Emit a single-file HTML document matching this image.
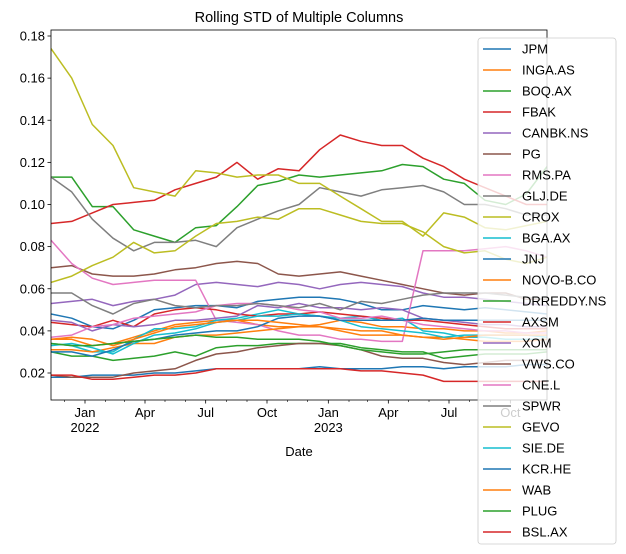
<!DOCTYPE html>
<html><head><meta charset="utf-8">
<style>
body{margin:0;background:#fff;}
svg{display:block;font-family:"Liberation Sans","DejaVu Sans",sans-serif;}
</style></head>
<body>
<svg id="chart" width="626" height="554" xmlns="http://www.w3.org/2000/svg"></svg>
<script>
const seriesNames=["JPM","INGA.AS","BOQ.AX","FBAK","CANBK.NS","PG","RMS.PA","GLJ.DE","CROX","BGA.AX","JNJ","NOVO-B.CO","DRREDDY.NS","AXSM","XOM","VWS.CO","CNE.L","SPWR","GEVO","SIE.DE","KCR.HE","WAB","PLUG","BSL.AX"];
const dayOffsets=[0,31,62,93,124,155,186,217,248,279,310,341,372,403,434,465,496,527,558,589,620,651,682,713,744];
const yTicks=[0.02,0.04,0.06,0.08,0.10,0.12,0.14,0.16,0.18];
const sJPM=[0.048,0.046,0.042,0.041,0.045,0.05,0.051,0.052,0.052,0.051,0.054,0.055,0.056,0.056,0.055,0.053,0.05,0.05,0.052,0.051,0.05,0.051,0.05,0.049,0.048];
const sINGA=[0.036,0.036,0.033,0.034,0.037,0.04,0.043,0.044,0.045,0.045,0.043,0.042,0.042,0.043,0.045,0.044,0.042,0.042,0.041,0.041,0.04,0.04,0.039,0.039,0.04];
const sBOQ=[0.113,0.113,0.099,0.099,0.088,0.085,0.082,0.089,0.090,0.099,0.109,0.111,0.114,0.113,0.114,0.115,0.116,0.119,0.118,0.112,0.11,0.102,0.1,0.105,0.118];
const sFBAK=[0.091,0.092,0.096,0.100,0.101,0.102,0.107,0.110,0.113,0.120,0.112,0.117,0.116,0.126,0.133,0.130,0.128,0.128,0.122,0.118,0.112,0.108,0.104,0.10,0.1];
const sCANBK=[0.053,0.054,0.055,0.052,0.054,0.055,0.057,0.062,0.063,0.062,0.061,0.063,0.062,0.060,0.062,0.063,0.062,0.061,0.058,0.056,0.056,0.055,0.054,0.053,0.052];
const sPG=[0.070,0.071,0.067,0.066,0.066,0.067,0.069,0.070,0.072,0.073,0.072,0.067,0.066,0.067,0.068,0.066,0.064,0.062,0.060,0.058,0.057,0.058,0.058,0.055,0.055];
const sRMS=[0.083,0.072,0.065,0.062,0.063,0.064,0.064,0.064,0.045,0.044,0.043,0.040,0.038,0.038,0.036,0.036,0.035,0.035,0.078,0.078,0.078,0.079,0.08,0.078,0.075];
const sGLJ=[0.113,0.106,0.093,0.084,0.078,0.082,0.082,0.083,0.080,0.089,0.093,0.097,0.100,0.108,0.106,0.104,0.107,0.108,0.109,0.106,0.100,0.100,0.098,0.095,0.095];
const sCROX=[0.174,0.16,0.138,0.128,0.108,0.106,0.104,0.116,0.115,0.113,0.114,0.114,0.11,0.11,0.104,0.098,0.092,0.092,0.085,0.096,0.094,0.089,0.088,0.09,0.092];
const sBGA=[0.034,0.033,0.030,0.030,0.036,0.041,0.041,0.042,0.045,0.046,0.048,0.050,0.048,0.047,0.046,0.047,0.045,0.046,0.040,0.039,0.037,0.037,0.036,0.036,0.036];
const sJNJ=[0.018,0.018,0.019,0.019,0.019,0.020,0.020,0.021,0.022,0.022,0.022,0.022,0.022,0.023,0.022,0.022,0.022,0.023,0.023,0.022,0.023,0.023,0.023,0.024,0.024];
const sNOVO=[0.031,0.031,0.030,0.032,0.034,0.034,0.037,0.038,0.038,0.039,0.040,0.041,0.042,0.042,0.041,0.040,0.040,0.038,0.037,0.037,0.036,0.035,0.035,0.035,0.036];
const sDRR=[0.030,0.028,0.028,0.026,0.027,0.028,0.030,0.028,0.032,0.033,0.033,0.034,0.034,0.034,0.034,0.032,0.031,0.03,0.03,0.027,0.028,0.029,0.029,0.029,0.03];
const sAXSM=[0.044,0.043,0.042,0.045,0.042,0.048,0.05,0.051,0.050,0.048,0.047,0.048,0.048,0.049,0.048,0.047,0.046,0.045,0.045,0.044,0.043,0.042,0.041,0.041,0.041];
const sXOM=[0.045,0.044,0.04,0.043,0.042,0.043,0.045,0.045,0.046,0.047,0.052,0.051,0.053,0.051,0.051,0.050,0.051,0.05,0.046,0.045,0.044,0.043,0.043,0.042,0.042];
const sVWS=[0.019,0.018,0.018,0.018,0.020,0.021,0.022,0.026,0.029,0.030,0.032,0.033,0.034,0.034,0.033,0.031,0.028,0.027,0.027,0.025,0.024,0.025,0.026,0.026,0.026];
const sCNE=[0.037,0.038,0.042,0.043,0.046,0.047,0.048,0.049,0.052,0.053,0.053,0.052,0.050,0.049,0.046,0.046,0.047,0.045,0.043,0.042,0.041,0.04,0.04,0.039,0.039];
const sSPWR=[0.058,0.058,0.052,0.048,0.053,0.055,0.052,0.051,0.052,0.052,0.053,0.052,0.051,0.053,0.050,0.054,0.053,0.055,0.057,0.058,0.058,0.058,0.057,0.056,0.055];
const sGEVO=[0.063,0.066,0.071,0.075,0.082,0.077,0.078,0.085,0.091,0.092,0.094,0.093,0.098,0.098,0.095,0.092,0.091,0.091,0.087,0.08,0.077,0.078,0.074,0.072,0.075];
const sSIE=[0.033,0.034,0.032,0.029,0.034,0.038,0.039,0.041,0.044,0.045,0.047,0.047,0.048,0.047,0.045,0.042,0.041,0.04,0.039,0.037,0.038,0.038,0.038,0.038,0.037];
const sKCR=[0.030,0.030,0.028,0.031,0.035,0.036,0.038,0.039,0.040,0.040,0.042,0.046,0.047,0.047,0.045,0.045,0.045,0.045,0.046,0.045,0.045,0.045,0.045,0.045,0.045];
const sWAB=[0.036,0.037,0.036,0.033,0.036,0.039,0.042,0.043,0.044,0.045,0.045,0.044,0.043,0.042,0.040,0.038,0.038,0.038,0.037,0.036,0.037,0.038,0.038,0.038,0.038];
const sPLUG=[0.034,0.033,0.033,0.034,0.035,0.036,0.037,0.038,0.037,0.037,0.036,0.036,0.036,0.035,0.033,0.031,0.030,0.029,0.029,0.030,0.031,0.031,0.031,0.031,0.031];
const sBSL=[0.019,0.019,0.017,0.017,0.018,0.019,0.019,0.020,0.022,0.022,0.022,0.022,0.022,0.022,0.022,0.021,0.021,0.020,0.019,0.016,0.016,0.016,0.016,0.016,0.016];
const seriesValues=[sJPM,sINGA,sBOQ,sFBAK,sCANBK,sPG,sRMS,sGLJ,sCROX,sBGA,sJNJ,sNOVO,sDRR,sAXSM,sXOM,sVWS,sCNE,sSPWR,sGEVO,sSIE,sKCR,sWAB,sPLUG,sBSL];

const colors=["#1f77b4","#ff7f0e","#2ca02c","#d62728","#9467bd","#8c564b","#e377c2","#7f7f7f","#bcbd22","#17becf"];
const NS="http://www.w3.org/2000/svg";
const svg=document.getElementById("chart");
const L=51,R=547,T=30,B=400;
const start=Date.UTC(2021,10,11);
function xDay(d){return L+d*(R-L)/744;}
function xDate(y,m){return xDay((Date.UTC(y,m,1)-start)/86400000);}
function yv(v){return 373-(v-0.02)*2106.25;}
function mk(tag,attrs,parent){const e=document.createElementNS(NS,tag);for(const k in attrs)e.setAttribute(k,attrs[k]);(parent||svg).appendChild(e);return e;}

const title=mk("text",{x:299,y:22,"text-anchor":"middle","font-size":"14.5",fill:"#000"});
title.textContent="Rolling STD of Multiple Columns";



const clip=mk("clipPath",{id:"pc"});mk("rect",{x:L,y:T,width:R-L,height:B-T},clip);
const plot=mk("g",{"clip-path":"url(#pc)"});


seriesValues.forEach((vals,si)=>{
  const pts=vals.map((v,i)=>xDay(dayOffsets[i]).toFixed(1)+","+yv(v).toFixed(1)).join(" ");
  const pl=mk("polyline",{points:pts,fill:"none",stroke:colors[si%10],"stroke-width":1.5,"stroke-linejoin":"round"},plot);
  
  
});

const frame=mk("rect",{x:L,y:T,width:R-L,height:B-T,fill:"none",stroke:"#000","stroke-width":0.8});



yTicks.forEach(t=>{
  const y=yv(t);
  mk("line",{x1:L-3.5,x2:L,y1:y,y2:y,stroke:"#000","stroke-width":0.8});
  const tx=mk("text",{x:L-6,y:y+4.5,"text-anchor":"end","font-size":"13",fill:"#000"});
  tx.textContent=t.toFixed(2);
  
  
});

const monthNames=["Jan","Feb","Mar","Apr","May","Jun","Jul","Aug","Sep","Oct","Nov","Dec"];
for(let y=2021;y<=2023;y++)for(let m=0;m<12;m++){
  const x=xDate(y,m);
  if(x<L||x>R)continue;
  const major=m%3===0;
  mk("line",{x1:x,x2:x,y1:B,y2:B+(major?3.5:2),stroke:"#000","stroke-width":major?0.8:0.6});
  if(major){
    const tx=mk("text",{x:x,y:B+17,"text-anchor":"middle","font-size":"13",fill:"#000"});
    tx.textContent=monthNames[m];
    
    
    if(m===0){
      const yr=mk("text",{x:x,y:B+32,"text-anchor":"middle","font-size":"13",fill:"#000"});
      yr.textContent=String(y);
      
      
    }
  }
}
const xt=mk("text",{x:299,y:456,"text-anchor":"middle","font-size":"13",fill:"#000"});
xt.textContent="Date";



const lg=mk("g",{});


mk("rect",{x:478,y:38,width:138,height:506,rx:3,fill:"#fff","fill-opacity":0.8,stroke:"#ccc","stroke-width":0.8},lg);
seriesNames.forEach((n,i)=>{
  const y=49+i*21;
  const ln=mk("line",{x1:483,x2:511,y1:y,y2:y,stroke:colors[i%10],"stroke-width":1.5},lg);
  
  
  const tx=mk("text",{x:522,y:y+4.5,"font-size":"13",fill:"#000"},lg);
  tx.textContent=n;
  
  
});
</script>
</body></html>
